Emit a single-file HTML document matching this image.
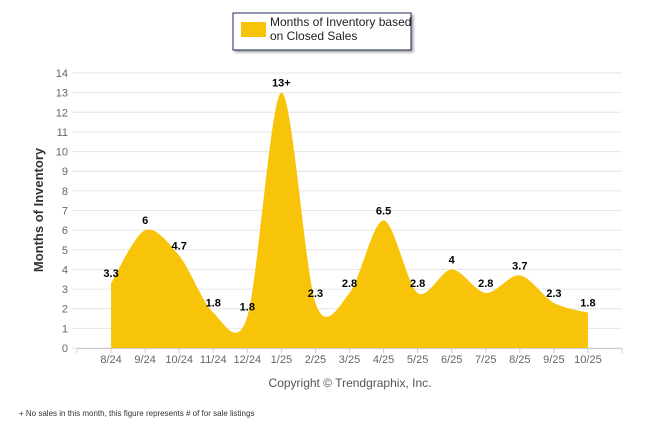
<!DOCTYPE html>
<html><head><meta charset="utf-8"><style>
body{margin:0;background:#fff;font-family:"Liberation Sans",Arial,sans-serif;}
svg text{font-family:"Liberation Sans",Arial,sans-serif;}
</style></head><body>
<svg id="chart" width="646" height="434" viewBox="0 0 646 434" xmlns="http://www.w3.org/2000/svg">
<defs><filter id="sh" x="-10%" y="-10%" width="130%" height="140%"><feDropShadow dx="2" dy="2" stdDeviation="1.2" flood-color="#000" flood-opacity="0.35"/></filter></defs>
<g>
<rect x="233" y="13" width="178" height="37" fill="#fff" stroke="#1a2a5a" stroke-width="1" filter="url(#sh)"/>
<rect x="241" y="22" width="25" height="15" fill="#F8C40A"/>
<text x="270" y="26" font-size="12" fill="#222">Months of Inventory based</text>
<text x="270" y="40" font-size="12" fill="#222">on Closed Sales</text>
</g>
<g id="grid"></g>
<g id="area"></g>
<g id="labels"></g>
<g id="axes"></g>
<text transform="translate(43,210) rotate(-90)" text-anchor="middle" font-size="13" font-weight="bold" fill="#333">Months of Inventory</text>
<text x="350" y="387" text-anchor="middle" font-size="12" fill="#555">Copyright © Trendgraphix, Inc.</text>
<text x="19" y="416" font-size="8" fill="#333">+  No sales in this month, this figure represents # of for sale listings</text>
</svg>
<script>
const categories=["8/24","9/24","10/24","11/24","12/24","1/25","2/25","3/25","4/25","5/25","6/25","7/25","8/25","9/25","10/25"];
const values=[3.3,6,4.7,1.8,1.6,13,2.3,2.8,6.5,2.8,4,2.8,3.7,2.3,1.8];
const valueLabels=["3.3","6","4.7","1.8","1.8","13+","2.3","2.8","6.5","2.8","4","2.8","3.7","2.3","1.8"];
const yTicks=[0,1,2,3,4,5,6,7,8,9,10,11,12,13,14];
const NS="http://www.w3.org/2000/svg";
const L=77,R=622,T=73,B=348,yMax=14;
const bw=(R-L)/(categories.length+1);
const xs=i=>L+bw*(i+1);
const ys=v=>B-(B-T)*v/yMax;
function mk(t,a,p){const e=document.createElementNS(NS,t);for(const k in a)e.setAttribute(k,a[k]);p.appendChild(e);return e;}
const grid=document.getElementById('grid'),axes=document.getElementById('axes');
yTicks.forEach(t=>{
 const g=mk('line',{x1:72,x2:R,y1:ys(t),y2:ys(t),stroke:'#e6e6e6','stroke-width':1},grid);
 
 
 const tx=mk('text',{x:68,y:ys(t)+4,'text-anchor':'end','font-size':11,fill:'#666'},axes);
 tx.textContent=t;
 
 
});
mk('line',{x1:L,x2:R,y1:B+0.5,y2:B+0.5,stroke:'#ccc'},axes);
for(let i=0;i<=categories.length+1;i++){mk('line',{x1:L+bw*i,x2:L+bw*i,y1:B,y2:B+5,stroke:'#ccc'},axes);}
categories.forEach((c,i)=>{
 const t=mk('text',{x:xs(i),y:363,'text-anchor':'middle','font-size':11,fill:'#666'},axes);
 t.textContent=c;
 
 
});
const pts=values.map((v,i)=>[xs(i),ys(v)]);
let d=`M${pts[0][0]},${B} L${pts[0][0]},${pts[0][1]}`;
for(let i=0;i<pts.length-1;i++){
 const p0=pts[i-1]||pts[i],p1=pts[i],p2=pts[i+1],p3=pts[i+2]||p2;
 const k=1/6.5;
 const c1=[p1[0]+(p2[0]-p0[0])*k,p1[1]+(p2[1]-p0[1])*k];
 const c2=[p2[0]-(p3[0]-p1[0])*k,p2[1]-(p3[1]-p1[1])*k];
 d+=` C${c1[0]},${c1[1]} ${c2[0]},${c2[1]} ${p2[0]},${p2[1]}`;
}
d+=` L${pts[pts.length-1][0]},${B} Z`;
const area=mk('path',{d:d,fill:'#F8C40A'},document.getElementById('area'));


const lab=document.getElementById('labels');
values.forEach((v,i)=>{
 const t=mk('text',{x:xs(i),y:ys(v)-6,'text-anchor':'middle','font-size':11,'font-weight':'bold',fill:'#000'},lab);
 t.textContent=valueLabels[i];
 
 
});
</script>
</body></html>
